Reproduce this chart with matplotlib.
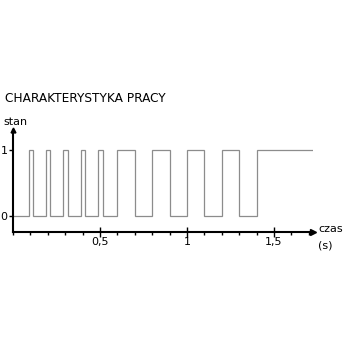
import numpy as np
import matplotlib
matplotlib.use('Agg')
import matplotlib.pyplot as plt
from matplotlib.ticker import MultipleLocator

# pulse edges (seconds)
pulse_start = [0.09, 0.19, 0.29, 0.39, 0.49, 0.60, 0.80, 1.00, 1.20, 1.40]
pulse_end = [0.115, 0.215, 0.315, 0.415, 0.515, 0.70, 0.90, 1.10, 1.30, 1.72]
t_begin = 0.0

x_ticks = [0.5, 1.0, 1.5]
x_tick_labels = ['0,5', '1', '1,5']
y_ticks = [0, 1]
y_tick_labels = ['0', '1']

title = 'CHARAKTERYSTYKA PRACY'
x_label = ['czas', '(s)']
y_label = 'stan'

# build step signal
t = [t_begin]
s = [0]
for a, b in zip(pulse_start, pulse_end):
    t += [a, a, b, b]
    s += [0, 1, 1, 0]
t = t[:-1]
s = s[:-1]

W, H = 350, 350
fig = plt.figure(figsize=(W / 100, H / 100), dpi=100)
plt.rcParams['font.family'] = 'DejaVu Sans'

# axes placed so that the spines sit where the reference axes are
x0, x1 = 13, 313
y0, y1 = 232, 130
ax = fig.add_axes([x0 / W, 1 - y0 / H, (x1 - x0) / W, (y0 - y1) / H])
ax.set_xlim(0, 1.724)
ax.set_ylim(-0.242, 1.30)

ax.plot(t, s, color='#8c8c8c', lw=0.9, solid_joinstyle='miter')

for side in ['top', 'right']:
    ax.spines[side].set_visible(False)
for side in ['left', 'bottom']:
    ax.spines[side].set_linewidth(1.5)

ax.set_xticks(x_ticks)
ax.set_xticklabels(x_tick_labels)
ax.xaxis.set_minor_locator(MultipleLocator(0.1))
ax.tick_params(axis='x', which='major', direction='inout', length=7, width=1,
               labelsize=8, pad=0)
ax.tick_params(axis='x', which='minor', direction='out', length=2.5, width=1)
ax.set_yticks(y_ticks)
ax.set_yticklabels(y_tick_labels)
ax.tick_params(axis='y', direction='out', length=3, width=1, labelsize=8, pad=1)

# arrow heads
ax.plot(1, 0, marker='>', color='k', markersize=4.5, transform=ax.transAxes, clip_on=False)
ax.plot(0, 1, marker='^', color='k', markersize=3.5, transform=ax.transAxes, clip_on=False)

fig.text(5 / W, 1 - 98 / H, title, fontsize=8.7, va='center', ha='left')
fig.text(3 / W, 1 - 122 / H, y_label, fontsize=8, va='center', ha='left')
fig.text(318 / W, 1 - 229 / H, x_label[0], fontsize=8, va='center', ha='left')
fig.text(318 / W, 1 - 245 / H, x_label[1], fontsize=8, va='center', ha='left')

fig.savefig('out.png', dpi=100)
